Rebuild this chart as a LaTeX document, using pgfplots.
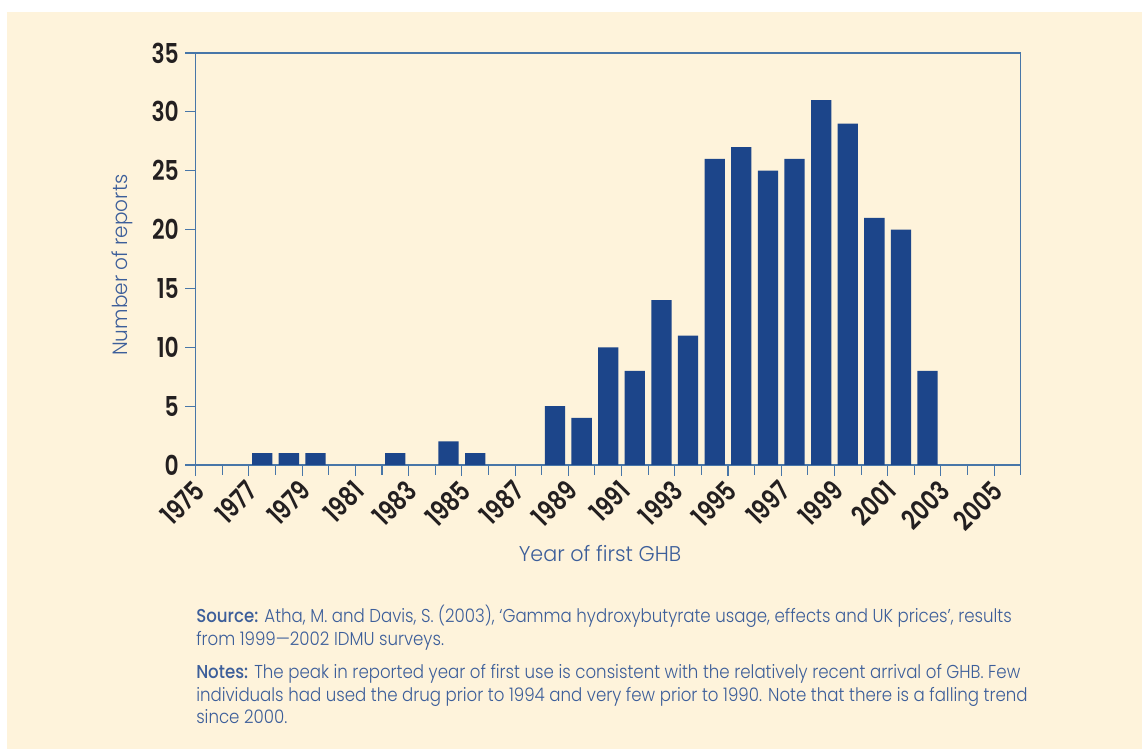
\documentclass[border=0pt]{standalone}
\usepackage{pgfplots}
\pgfplotsset{compat=1.18}
\usepackage{fontspec}
\setmainfont{Poppins}
\newfontfamily\lightfont[FakeStretch=0.89]{Poppins Light}
\newfontfamily\medfont[FakeStretch=0.89]{Poppins Medium}
\newfontfamily\labfont[FakeStretch=0.97]{Poppins Light}
\newfontfamily\tickfont[FakeStretch=0.8]{Poppins SemiBold}
\definecolor{cream}{RGB}{254,243,219}
\definecolor{barblue}{RGB}{28,69,138}
\definecolor{axisblue}{RGB}{72,118,168}
\definecolor{labelblue}{RGB}{60,94,154}
\definecolor{tickdark}{RGB}{35,31,32}
\begin{document}
\begin{tikzpicture}
\fill[white] (0,0) rectangle (856.5pt,561.75pt);
\fill[cream] (5.25pt,0) rectangle (856.5pt,552.75pt);
\begin{axis}[
  at={(146.8pt,213pt)}, anchor=south west,
  scale only axis, width=618.75pt, height=309pt,
  xmin=1975, xmax=2006, ymin=0, ymax=35,
  axis line style={color=axisblue, line width=0.8pt},
  xtick={1975,1977,...,2005},
  minor xtick={1976,1978,...,2006},
  ytick={0,5,...,35},
  tick align=outside,
  xtick pos=bottom, ytick pos=left,
  major tick length=8pt, minor tick length=7.5pt,
  every tick/.style={color=axisblue, line width=0.8pt},
  minor tick style={color=axisblue, line width=0.8pt},
  /pgf/number format/assume math mode=true,
  /pgf/number format/1000 sep={},
  ticklabel style={font=\tickfont\fontsize{20.5}{20.5}\selectfont, text=tickdark},
  x tick label style={xshift=-3pt, rotate=45, anchor=north east, inner sep=1.5pt},
  y tick label style={inner sep=4.5pt},
  xlabel={Year of first GHB},
  ylabel={Number of reports},
  xlabel style={font=\labfont\fontsize{16}{16}\selectfont, text=labelblue, at={(axis description cs:0.49,-0.184)}, anchor=north},
  ylabel style={font=\labfont\fontsize{15.5}{15.5}\selectfont, text=labelblue, at={(axis description cs:-0.07,0.485)}, anchor=south},
]
\addplot[ybar, bar width=15.2pt, fill=barblue, draw=none] coordinates {
 (1977.5,1) (1978.5,1) (1979.5,1) (1982.5,1) (1984.5,2) (1985.5,1)
 (1988.5,5) (1989.5,4) (1990.5,10) (1991.5,8) (1992.5,14) (1993.5,11)
 (1994.5,26) (1995.5,27) (1996.5,25) (1997.5,26) (1998.5,31) (1999.5,29)
 (2000.5,21) (2001.5,20) (2002.5,8)
};
\end{axis}
\begin{scope}[every node/.style={anchor=base west, inner sep=0pt, text=labelblue, font=\lightfont\fontsize{14}{16}\selectfont}]
\node at (147pt,94.5pt) {{\medfont Source:} Atha, M. and Davis, S. (2003), ‘Gamma hydroxybutyrate usage, effects and UK prices’, results};
\node at (147pt,77.25pt) {from 1999—2002 IDMU surveys.};
\node at (147pt,52.5pt) {{\medfont Notes:} The peak in reported year of first use is consistent with the relatively recent arrival of GHB. Few};
\node at (147pt,35.25pt) {individuals had used the drug prior to 1994 and very few prior to 1990. Note that there is a falling trend};
\node at (147pt,18.75pt) {since 2000.};
\end{scope}
\end{tikzpicture}
\end{document}
